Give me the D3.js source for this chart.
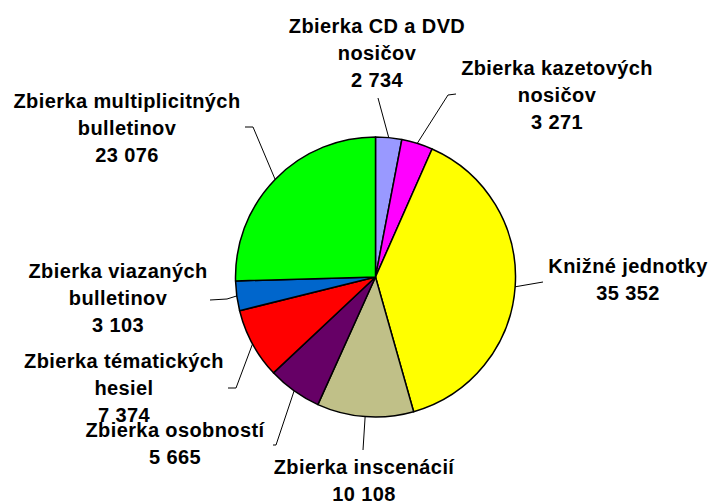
<!DOCTYPE html>
<html>
<head>
<meta charset="utf-8">
<script src="https://cdn.jsdelivr.net/npm/d3@7"></script>
<style>
  body { margin: 0; background: #fff; }
  text { font-family: "Liberation Sans", Arial, sans-serif; font-weight: bold; font-size: 20px; letter-spacing: 0.4px; fill: #000; }
</style>
</head>
<body>
<div id="chart"></div>
<script>
// data
var categories = [
  ["Zbierka CD a DVD", "nosičov"],
  ["Zbierka kazetových", "nosičov"],
  ["Knižné jednotky"],
  ["Zbierka inscenácií"],
  ["Zbierka osobností"],
  ["Zbierka tématických", "hesiel"],
  ["Zbierka viazaných", "bulletinov"],
  ["Zbierka multiplicitných", "bulletinov"]
];
var values = [2734, 3271, 35352, 10108, 5665, 7374, 3103, 23076];
var valueLabels = ["2 734", "3 271", "35 352", "10 108", "5 665", "7 374", "3 103", "23 076"];
var colors = ["#9999ff", "#ff00ff", "#ffff00", "#c0c088", "#660066", "#ff0000", "#0066cc", "#00ff00"];

var svgWidth = 716;
var svgHeight = 504;
var cx = 375.5, cy = 277, radius = 140;

// label layout: text centre x, first baseline, leader elbow and end
var labelLayout = [
  { x: 377, y: 33,  pts: [[378, 98]] },
  { x: 557, y: 75,  pts: [[448, 95], [456, 94]] },
  { x: 628, y: 273, pts: [[543, 282]] },
  { x: 364, y: 474, pts: [[363, 450]] },
  { x: 175, y: 437, pts: [[276, 445], [273, 445]] },
  { x: 124, y: 368, pts: [[236, 388], [228, 388]] },
  { x: 118, y: 278, pts: [[227, 299], [210, 300]] },
  { x: 127, y: 108, pts: [[253, 127], [245, 127]] }
];
var lineH = 27;

var svg = d3.select("#chart")
    .append("svg")
    .attr("width", svgWidth)
    .attr("height", svgHeight);

var pie = d3.pie().sort(null).value(function(d) { return d; });
var arcs = pie(values);

var arc = d3.arc().innerRadius(0).outerRadius(radius);

var g = svg.append("g")
    .attr("transform", "translate(" + cx + "," + cy + ")");

g.selectAll(".slice")
    .data(arcs)
    .enter().append("path")
    .attr("class", "slice")
    .attr("d", arc)
    .style("fill", function(d, i) { return colors[i]; })
    .style("stroke", "#000")
    .style("stroke-width", 1.5)
    .style("stroke-linejoin", "round");

// leader lines from slice edge to label
svg.selectAll(".leader")
    .data(arcs)
    .enter().append("polyline")
    .attr("class", "leader")
    .attr("points", function(d, i) {
        var a = (d.startAngle + d.endAngle) / 2;
        var p = [[cx + radius * Math.sin(a), cy - radius * Math.cos(a)]];
        return p.concat(labelLayout[i].pts).map(function(q) { return q.join(","); }).join(" ");
    })
    .style("fill", "none")
    .style("stroke", "#000")
    .style("stroke-width", 1);

// labels
var labels = svg.selectAll(".lbl")
    .data(arcs)
    .enter().append("text")
    .attr("class", "lbl")
    .attr("text-anchor", "middle");

labels.each(function(d, i) {
    var lines = categories[i].concat([valueLabels[i]]);
    var t = d3.select(this);
    lines.forEach(function(s, k) {
        t.append("tspan")
            .attr("x", labelLayout[i].x)
            .attr("y", labelLayout[i].y + k * lineH)
            .text(s);
    });
});
</script>
</body>
</html>
